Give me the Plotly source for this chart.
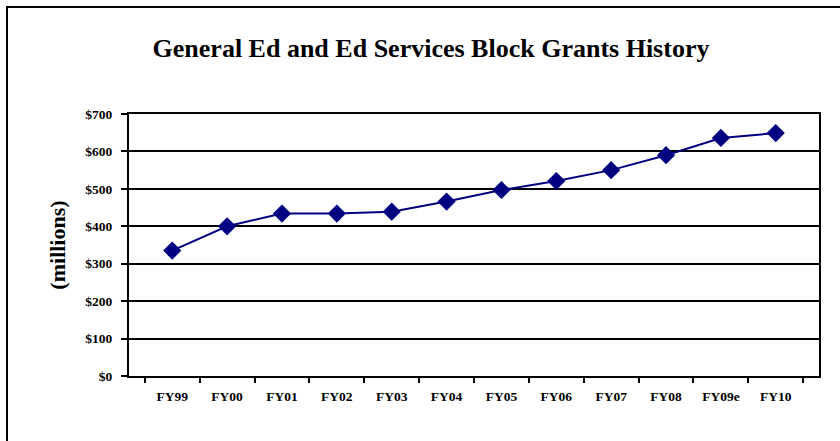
import plotly.graph_objects as go

# Fiscal years and block grant totals ($ millions)
years = ["FY99", "FY00", "FY01", "FY02", "FY03", "FY04", "FY05",
         "FY06", "FY07", "FY08", "FY09e", "FY10"]
grants = [335, 400, 434, 434, 439, 466, 497, 521, 550, 590, 636, 649]

y_ticks = [0, 100, 200, 300, 400, 500, 600, 700]
y_labels = ["$" + str(v) for v in y_ticks]

serif = "Liberation Serif, Times New Roman, serif"

fig = go.Figure()
fig.add_trace(go.Scatter(
    x=years, y=grants,
    mode="lines+markers",
    line=dict(color="#000080", width=2),
    marker=dict(symbol="diamond", size=14, color="#000080"),
    showlegend=False,
    hoverinfo="x+y",
))

fig.update_layout(
    width=840, height=441,
    margin=dict(l=129, r=21, t=114, b=65),
    paper_bgcolor="white",
    plot_bgcolor="white",
    font=dict(family=serif, color="black"),
    title=dict(
        text="<b>General Ed and Ed Services Block Grants History</b>",
        font=dict(family=serif, size=26, color="black"),
        x=431 / 840, xanchor="center", xref="container",
        y=1 - 48 / 441, yanchor="middle", yref="container",
    ),
    xaxis=dict(
        type="category",
        showgrid=False,
        showline=True, linecolor="black", linewidth=2, mirror=True,
        ticks="outside", tickson="boundaries", ticklen=5,
        tickwidth=2, tickcolor="black",
        ticklabelstandoff=7,
        tickfont=dict(family=serif, size=13.5, color="black", weight="bold"),
        fixedrange=True,
    ),
    yaxis=dict(
        range=[0, 700],
        tickvals=y_ticks, ticktext=y_labels,
        showgrid=True, gridcolor="black", gridwidth=2,
        zeroline=False,
        showline=True, linecolor="black", linewidth=2, mirror=True,
        ticks="outside", ticklen=6, tickwidth=2, tickcolor="black",
        ticklabelstandoff=6,
        tickfont=dict(family=serif, size=13.5, color="black", weight="bold"),
        title=dict(text="<b>(millions)</b>",
                   font=dict(family=serif, size=22, color="black"),
                   standoff=14),
        fixedrange=True,
    ),
    shapes=[
        # outer chart frame (continues past the right and bottom edges)
        dict(type="rect", xref="paper", yref="paper",
             x0=(7 - 129) / 690, x1=(850 - 129) / 690,
             y0=(376 - 460) / 262, y1=(376 - 7) / 262,
             line=dict(color="black", width=2), layer="below"),
    ],
)

fig.write_html("out.html", config={"displayModeBar": False})
